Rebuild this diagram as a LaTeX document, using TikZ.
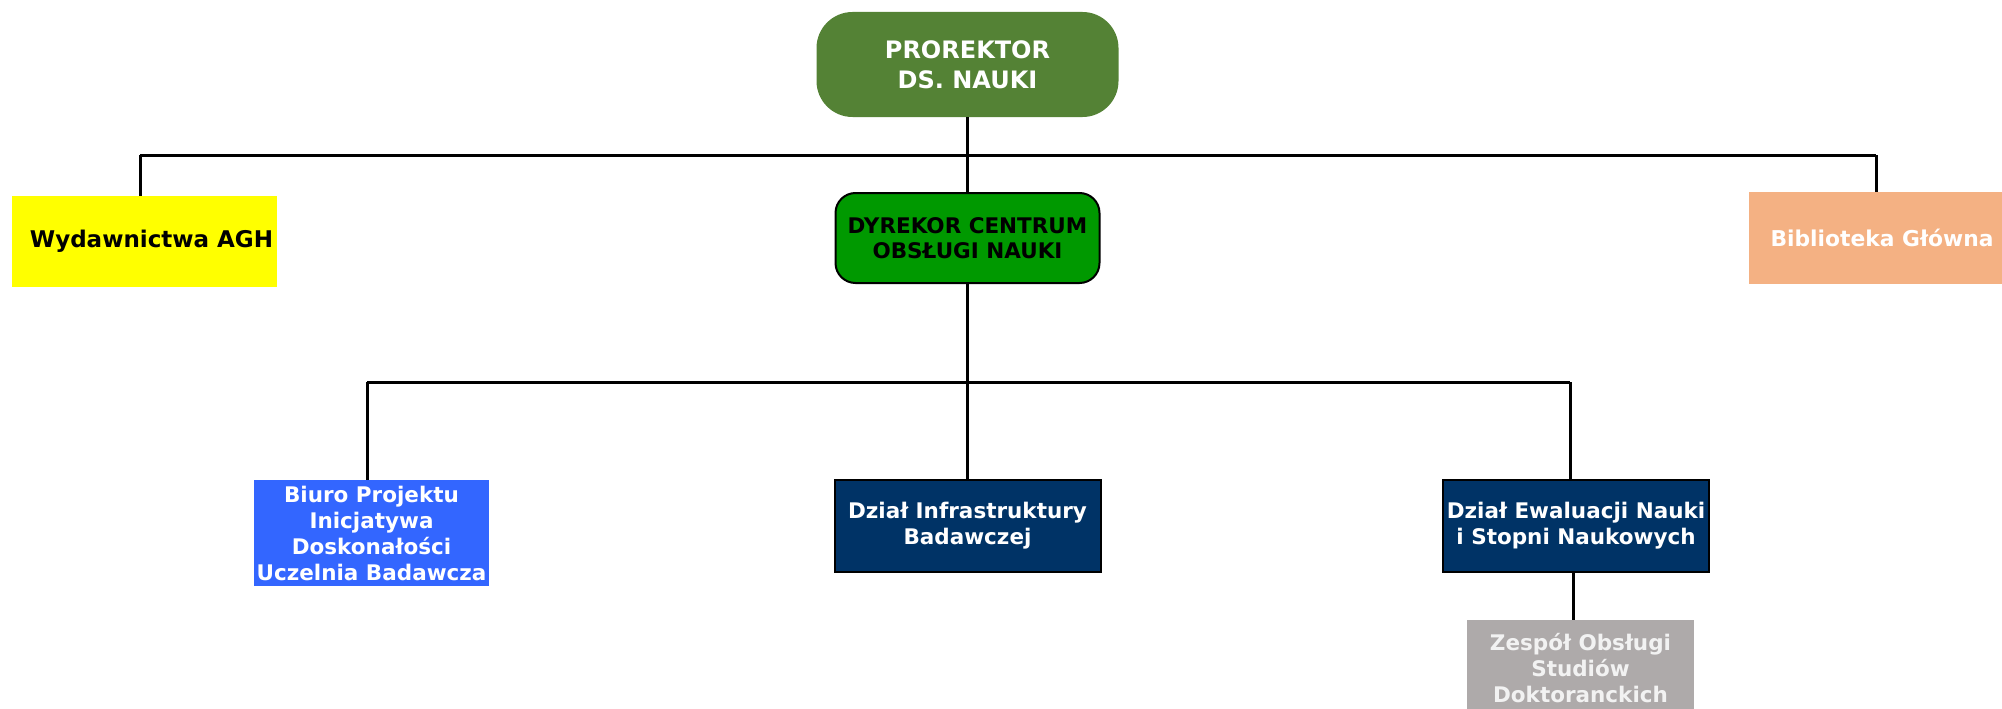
\documentclass[tikz,border=0pt]{standalone}
\usepackage{fontspec}
\setmainfont{DejaVu Sans}
\begin{document}
\begin{tikzpicture}[x=1pt,y=-1pt,
  every node/.style={inner sep=0pt, align=center, font=\bfseries\fontsize{21.5}{26}\selectfont},
  box/.style={rectangle, anchor=center},
  conn/.style={draw=black, line width=3pt},
  bord/.style={draw=black, line width=2pt}]
\useasboundingbox (0,0) rectangle (2002,709);
\definecolor{cProrektor}{HTML}{548235}
\definecolor{cDyr}{HTML}{009900}
\definecolor{cYellow}{HTML}{FFFF00}
\definecolor{cBib}{HTML}{F4B183}
\definecolor{cBiuro}{HTML}{3366FF}
\definecolor{cNavy}{HTML}{003366}
\definecolor{cGray}{HTML}{AEAAAA}
\definecolor{cGrayText}{HTML}{F2F2F2}

\node[box, fill=cProrektor, rounded corners=36pt, minimum width=302pt, minimum height=105pt,
      text=white, font=\bfseries\fontsize{24}{30}\selectfont] (pro) at (967.5,64.5) {PROREKTOR\\DS. NAUKI};
\node[box, fill=cDyr, bord, rounded corners=20pt, minimum width=264pt, minimum height=90pt,
      text=black, font=\bfseries\fontsize{21.5}{25}\selectfont] (dyr) at (967.5,238) {DYREKOR CENTRUM\\OBSŁUGI NAUKI};
\node[box, fill=cYellow, minimum width=265pt, minimum height=91pt, text=black,
      font=\bfseries\fontsize{23}{28}\selectfont] (wyd) at (144.5,241.5) {\hspace*{14pt}Wydawnictwa AGH};
\node[box, fill=cBib, minimum width=266pt, minimum height=92pt, text=white,
      font=\bfseries\fontsize{21.8}{28}\selectfont] (bib) at (1882,238) {Biblioteka Główna};
\node[box, fill=cBiuro, minimum width=235pt, minimum height=106pt, text=white] (biuro) at (371.5,533)
  {Biuro Projektu\\Inicjatywa\\Doskonałości\\Uczelnia Badawcza};
\node[box, fill=cNavy, bord, minimum width=266pt, minimum height=92pt, text=white] (infra) at (967.5,526)
  {Dział Infrastruktury\\Badawczej};
\node[box, fill=cNavy, bord, minimum width=266pt, minimum height=92pt, text=white] (ewal) at (1576,526)
  {Dział Ewaluacji Nauki\\i Stopni Naukowych};
\node[box, fill=cGray, minimum width=227pt, minimum height=96pt, text=cGrayText] (zesp) at (1580.5,668)
  {Zespół Obsługi\\Studiów\\Doktoranckich};

% connectors
\coordinate (busAL) at (140,155);
\coordinate (busAR) at (1876,155);
\coordinate (busBL) at (367,382);
\coordinate (busBR) at (1570,382);
\coordinate (zx) at (1573,0);

\draw[conn] (pro.south) -- (dyr.north);
\draw[conn] (busAL) -- (busAR);
\draw[conn] (busAL) -- (busAL |- wyd.north);
\draw[conn] (busAR) -- (busAR |- bib.north);
\draw[conn] (dyr.south) -- (infra.north);
\draw[conn] (busBL) -- (busBR);
\draw[conn] (busBL) -- (busBL |- biuro.north);
\draw[conn] (busBR) -- (busBR |- ewal.north);
\draw[conn] (zx |- ewal.south) -- (zx |- zesp.north);
\end{tikzpicture}
\end{document}
